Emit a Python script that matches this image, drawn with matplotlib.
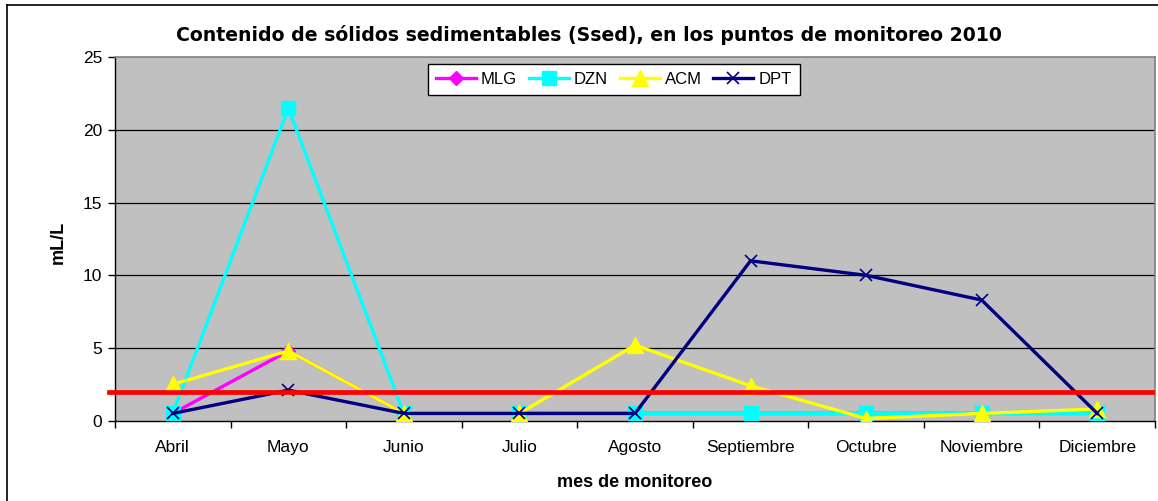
import numpy as np
import matplotlib
matplotlib.use("Agg")
import matplotlib.pyplot as plt
import matplotlib.transforms as mtransforms
from matplotlib.lines import Line2D

plt.rcParams["font.family"] = ["Liberation Sans", "DejaVu Sans"]

# datos
meses = ["Abril", "Mayo", "Junio", "Julio", "Agosto", "Septiembre",
         "Octubre", "Noviembre", "Diciembre"]
mlg = [0.5, 4.8, 0.5, 0.5, 0.5, 0.5, 0.5, 0.5, 0.5]
dzn = [0.5, 21.5, 0.5, 0.5, 0.5, 0.5, 0.5, 0.5, 0.5]
acm = [2.5, 4.8, 0.5, 0.5, 5.2, 2.4, 0.15, 0.5, 0.8]
dpt = [0.5, 2.1, 0.5, 0.5, 0.5, 11.0, 10.0, 8.3, 0.5]
limite = 2.0

fig = plt.figure(figsize=(11.58, 5.01), dpi=100)
ax = fig.add_axes([0.0993, 0.1603, 0.8981, 0.7253])
ax.set_facecolor("#C0C0C0")

x = np.arange(len(meses))

# lineas de la cuadricula
for yv in [5, 10, 15, 20]:
    ax.axhline(yv, color="black", lw=0.9, zorder=1)

ax.plot(x, mlg, color="#FF00FF", lw=2.4, marker="D", ms=7, label="MLG", zorder=3)
ax.plot(x, dzn, color="#00FFFF", lw=2.4, marker="s", ms=10, label="DZN", zorder=4)
ax.plot(x, acm, color="#FFFF00", lw=2.4, marker="^", ms=11, label="ACM", zorder=5)
ax.plot(x, dpt, color="#000080", lw=2.4, marker="x", ms=9, mew=1.2,
        label="DPT", zorder=6)

# linea roja del limite
trans = mtransforms.blended_transform_factory(ax.transAxes, ax.transData)
ax.plot([-0.006, 0.997], [limite, limite], color="#FF0000", lw=3.4,
        transform=trans, clip_on=False, zorder=7)

ax.set_xlim(-0.5, len(meses) - 0.5)
ax.set_ylim(0, 25)
ax.set_yticks([0, 5, 10, 15, 20, 25])
ax.set_xticks(x)
ax.set_xticklabels(meses, fontsize=12.5)
ax.set_xticks(np.arange(-0.5, len(meses), 1), minor=True)
ax.tick_params(axis="x", which="major", length=0, pad=14)
ax.tick_params(axis="x", which="minor", length=5, width=1, direction="out")
ax.tick_params(axis="y", length=5, width=1, direction="out", labelsize=12.5, pad=4)

for s in ["left", "bottom"]:
    ax.spines[s].set_color("black")
    ax.spines[s].set_linewidth(1.0)
for s in ["top", "right"]:
    ax.spines[s].set_color("#808080")
    ax.spines[s].set_linewidth(1.2)

ax.set_xlabel("mes de monitoreo", fontsize=13, fontweight="bold")
ax.xaxis.set_label_coords(0.5, -0.146)
ax.set_ylabel("mL/L", fontsize=13, fontweight="bold")
ax.yaxis.set_label_coords(-0.046, 0.49)

fig.text(0.5086, 0.93,
         "Contenido de sólidos sedimentables (Ssed), en los puntos de monitoreo 2010",
         ha="center", va="center", fontsize=13.6, fontweight="bold",
         family=["DejaVu Sans"])

leg = ax.legend(loc="upper center", bbox_to_anchor=(0.53, 0.873),
                bbox_transform=fig.transFigure, ncol=4, fontsize=12,
                frameon=True, fancybox=False, framealpha=1, edgecolor="black",
                handlelength=2.4, handletextpad=0.3, columnspacing=0.7,
                borderpad=0.5, borderaxespad=0)
leg.get_frame().set_linewidth(1.0)
leg.set_zorder(10)

# marco exterior del grafico
fig.add_artist(Line2D([7 / 1158, 7 / 1158], [0, 1 - 5 / 501], color="black",
                      lw=1.2, transform=fig.transFigure))
fig.add_artist(Line2D([7 / 1158, 1], [1 - 5 / 501, 1 - 5 / 501], color="black",
                      lw=1.2, transform=fig.transFigure))

fig.savefig("out.png", dpi=100, facecolor="white")
